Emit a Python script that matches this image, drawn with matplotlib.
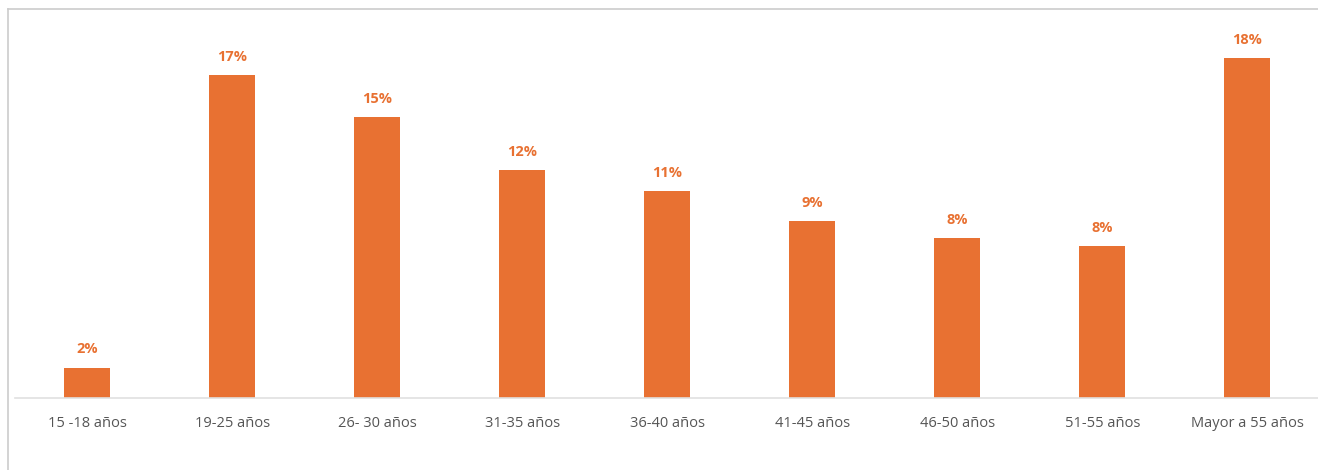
import matplotlib.pyplot as plt
from matplotlib.lines import Line2D

# datos
categorias = ['15 -18 años', '19-25 años', '26- 30 años', '31-35 años', '36-40 años',
              '41-45 años', '46-50 años', '51-55 años', 'Mayor a 55 años']
porcentajes = [1.6, 17.0, 14.8, 12.0, 10.9, 9.3, 8.4, 8.0, 17.9]

naranja = '#E87132'

plt.rcParams['font.family'] = ['Open Sans', 'DejaVu Sans']

fig = plt.figure(figsize=(13.18, 4.70), dpi=100)
ax = fig.add_axes([14.5 / 1318, 72 / 470, (1320 - 14.5) / 1318, (398 - 30) / 470])

x = range(len(categorias))
bars = ax.bar(x, porcentajes, width=0.317, color=naranja)

for b, v in zip(bars, porcentajes):
    ax.annotate(f'{round(v)}%', (b.get_x() + b.get_width() / 2, v),
                xytext=(0, 8), textcoords='offset points',
                ha='center', va='bottom', color=naranja,
                fontsize=10.5, fontweight='bold')

ax.set_xlim(-0.5, len(categorias) - 0.5)
ax.set_ylim(0, (398 - 30) / 19.0)
ax.set_xticks(list(x))
ax.set_xticklabels(categorias, fontsize=10.5, color='#555555')
ax.tick_params(axis='x', length=0, pad=13)
ax.set_yticks([])
for s in ['top', 'right', 'left']:
    ax.spines[s].set_visible(False)
ax.spines['bottom'].set_color('#e0e0e0')
ax.spines['bottom'].set_linewidth(1.2)

# marco
fig.add_artist(Line2D([8 / 1318, 8 / 1318], [0, 1 - 9 / 470], transform=fig.transFigure,
                      color='#cccccc', lw=1.2))
fig.add_artist(Line2D([8 / 1318, 1], [1 - 9 / 470, 1 - 9 / 470], transform=fig.transFigure,
                      color='#cccccc', lw=1.2))

fig.savefig('out.png', dpi=100)
